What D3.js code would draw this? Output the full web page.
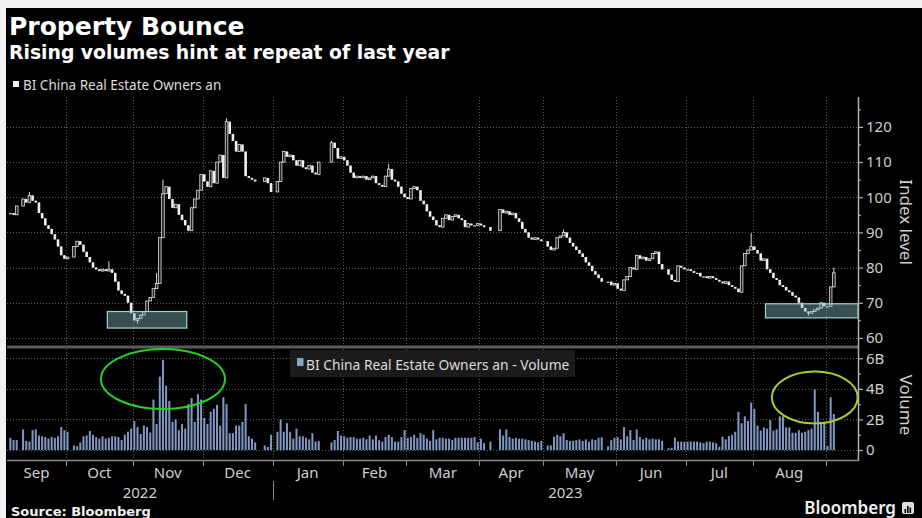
<!DOCTYPE html>
<html>
<head>
<meta charset="utf-8">
<script src="https://cdn.jsdelivr.net/npm/d3@7"></script>
<style>
  body { margin: 0; background: #f2f2f2; }
  svg { display: block; font-family: "Noto Sans", sans-serif; }
</style>
</head>
<body>
<div id="vis"></div>
<script>
// ---- data ----
const firstDay = "2022-09-07";
const lastDay = "2023-09-05";
// HK market holidays inside the window (no bar drawn)
const holidays = ["2022-09-12", "2022-10-04", "2022-12-26", "2022-12-27", "2023-01-02",
  "2023-01-23", "2023-01-24", "2023-01-25", "2023-04-05", "2023-04-07", "2023-04-10",
  "2023-05-01", "2023-05-26", "2023-06-22"];

// daily close of the index, one value per trading day
const closes = [
  95.5, 95, 97.5, 99.5, 98.5, 100.5, 99, 98.5, 95.5, 94, 92, 91, 89.5, 88, 86, 83.5, 82.5,          // Sep 22
  83, 86, 87.5, 86.5, 84.5, 83, 81.5, 80, 79.5, 79, 79.5, 79, 79.5, 78.5, 76, 73.5, 72.5, 72, 70, 67, // Oct
  65, 65.5, 66.5, 67.5, 70.5, 71.5, 74, 75.5, 88.5, 101, 103, 99.5, 97, 98, 95, 93.5, 92, 90.5,
  97, 99.5, 102, 106.5,                                                                              // Nov
  104.5, 103, 107.5, 104, 110, 112, 105.5, 121.5, 118, 116, 113, 115, 113, 106, 105.5, 105, 104.5,
  105.5, 104, 101.5,                                                                                 // Dec
  104.5, 110, 113, 111.5, 112, 110.5, 109, 110.5, 108.5, 108, 109, 107, 106.5, 110, 115.5, 114, 111, 111.5, // Jan 23
  110.5, 109, 107, 105.5, 106, 105.5, 106, 105, 105.5, 106, 104, 103.5, 103, 106, 108, 105, 104.5, 103, 101, 100, // Feb
  99.5, 102.5, 103, 102, 99, 98, 96, 94.5, 93.5, 92, 91.5, 94, 95, 93.5, 94.5, 95, 94, 93.5, 91.5, 92.5,
  92, 92, 92.5,                                                                                      // Mar
  92, 91.5, 90.5, 96.5, 95.5, 96, 95, 95.5, 94, 93, 91, 90, 88.5, 88, 88.5, 88, 87.5,              // Apr
  86, 85, 85.5, 88.5, 89, 90, 88.5, 87, 86, 85, 84, 83, 81.5, 80.5, 79, 78, 77, 76, 76, 75, 75.5,   // May
  74, 73.5, 76.5, 77.5, 80, 79.5, 83.5, 82.5, 83, 82, 82.5, 84, 84.5, 81, 79.5, 78, 76.5, 76, 80.5, 80, 79.5, // Jun
  79.5, 79, 78.5, 78.5, 77.5, 77.5, 77, 77.5, 77, 76.5, 76, 75.5, 76, 75, 74.5, 74, 73, 80.5, 84, 85, 86, // Jul
  85, 84, 82, 82.5, 79.5, 78.5, 77, 76.5, 75, 74.5, 73.5, 73, 72, 71.5, 70, 68.5, 67.5, 67, 67.5, 68,
  68.5, 70, 69,                                                                                      // Aug
  69, 74.5, 78.5                                                                                     // Sep 23
];

// daily volume, billions of shares
const volumes = [
  0.8, 0.65, 0.65, 1.35, 0.6, 0.55, 1.3, 1.35, 0.95, 0.9, 0.85, 0.75, 0.85, 0.8, 0.9, 1.5, 1.3,
  1.2, 0.3, 0.25, 0.5, 0.9, 0.95, 1.25, 1.0, 0.85, 0.75, 0.9, 0.75, 0.8, 0.9, 0.9, 0.85, 0.65, 1.0, 1.2, 1.4,
  1.9, 1.5, 1.05, 1.6, 1.5, 1.15, 3.3, 1.7, 4.8, 5.9, 4.2, 3.2, 1.85, 2.0, 1.3, 1.7, 1.4, 3.0, 3.4, 1.85, 3.65, 3.3,
  2.1, 1.7, 2.5, 2.7, 2.95, 1.6, 3.45, 3.0, 1.1, 1.1, 1.6, 1.6, 1.85, 3.0, 0.9, 0.75, 0.5, 0.3, 0.2, 1.0,
  1.2, 2.0, 1.2, 1.75, 1.2, 0.75, 1.4, 0.9, 0.9, 0.8, 0.7, 1.1, 0.55, 0.6, 0.5, 0.65, 1.25, 0.95,
  0.9, 0.8, 0.85, 0.85, 0.75, 0.75, 0.8, 0.7, 0.95, 0.7, 0.95, 0.65, 0.55, 0.85, 1.0, 0.85, 0.55, 0.55, 0.85, 1.3,
  0.8, 0.85, 1.0, 0.8, 1.1, 1.0, 0.75, 0.6, 1.3, 0.7, 0.8, 0.8, 0.75, 0.75, 0.65, 0.8, 0.8, 0.8, 0.8, 0.8, 0.8, 0.85, 0.5,
  0.75, 0.45, 0.55, 1.35, 0.95, 1.35, 0.85, 0.75, 0.8, 0.75, 0.75, 0.7, 0.65, 0.6, 0.55, 0.5, 0.6,
  0.3, 0.3, 0.87, 1.0, 0.9, 1.1, 0.65, 0.6, 0.6, 0.65, 0.7, 0.6, 0.7, 0.55, 0.7, 0.65, 0.8, 0.83, 0.25, 0.65, 0.8,
  0.85, 0.7, 1.5, 0.9, 1.3, 0.65, 1.35, 0.85, 0.7, 0.8, 0.7, 0.75, 0.7, 0.7, 0.6, 0.12, 0.15, 0.82, 0.55, 0.55, 0.55,
  0.55, 0.55, 0.55, 0.55, 0.5, 0.45, 0.55, 0.55, 0.5, 0.45, 0.22, 0.87, 0.7, 0.92, 1.0, 1.2, 2.5, 1.75, 2.2, 1.9, 3.1,
  2.7, 1.6, 1.27, 1.48, 1.4, 1.96, 1.27, 1.35, 2.2, 2.2, 1.48, 1.48, 1.13, 1.13, 1.3, 1.13, 1.2, 1.3, 1.4, 3.96, 2.5, 1.85, 1.85,
  0.26, 3.45, 2.35
];

// visible wick extremes beyond the candle body
const wickDates = ["2022-09-15", "2022-10-20", "2022-11-02", "2022-11-10", "2022-11-14", "2022-12-12",
  "2023-01-26", "2023-02-21", "2023-05-09", "2023-07-31", "2023-08-24", "2023-09-05"];
const wickValues = [101.5, 81.8, 64, 78.5, 105, 122.5, 116, 109.5, 90.8, 89.8, 66.3, 80];

const priceTicks = [60, 70, 80, 90, 100, 110, 120];
const priceMinor = [65, 75, 85, 95, 105, 115, 125];
const volTicks = [0, 2, 4, 6];
const volLabels = ["0", "2B", "4B", "6B"];
const volMinor = [1, 3, 5];
const monthLabels = ["Sep", "Oct", "Nov", "Dec", "Jan", "Feb", "Mar", "Apr", "May", "Jun", "Jul", "Aug"];
const monthStarts = ["2022-10-03", "2022-11-01", "2022-12-01", "2023-01-02", "2023-02-01", "2023-03-01",
  "2023-04-03", "2023-05-01", "2023-06-01", "2023-07-03", "2023-08-01", "2023-09-01"];
const yearLabels = ["2022", "2023"];

// highlight boxes on the price panel and rings on the volume panel
const boxFrom = ["2022-10-20", "2023-08-07"];
const boxTo = ["2022-11-24", null];
const boxLow = [62.8, 65.7];
const boxHigh = [67.5, 69.7];
const ringDates = ["2022-11-14", "2023-08-28"];
const ringVol = [4.64, 3.43];
const ringHalfDays = [19.5, 13.5];
const ringHalfVol = [1.96, 1.7];
const ringColors = ["#22d322", "#a4cf2e"];

// ---- layout ----
const W = 922, H = 518;
const plot = { left: 7, right: 858, top: 97, sep: 347, bottom: 460 };

const svg = d3.select("#vis").append("svg")
  .attr("width", W)
  .attr("height", H);

svg.append("rect")
  .attr("x", 6).attr("y", 8)
  .attr("width", W - 6).attr("height", H - 8)
  .attr("fill", "#000");

// weekday slots (Bloomberg skips weekends, keeps holiday gaps)
const parse = d3.timeParse("%Y-%m-%d");
const fmt = d3.timeFormat("%Y-%m-%d");
const weekdays = d3.timeDay.range(parse("2022-09-01"), parse("2023-10-01"))
  .filter(d => d.getDay() % 6 !== 0);
const slot = new Map(weekdays.map((d, i) => [fmt(d), i]));
const holidaySet = new Set(holidays);
const tradingDays = weekdays.filter(d => d >= parse(firstDay) && d <= parse(lastDay) && !holidaySet.has(fmt(d)));
if (tradingDays.length !== closes.length || closes.length !== volumes.length) {
  console.error("length mismatch", tradingDays.length, closes.length, volumes.length);
}

const wickMap = new Map(wickDates.map((d, i) => [d, wickValues[i]]));
const data = tradingDays.map((d, k) => {
  const open = k ? closes[k - 1] : closes[0];
  const close = closes[k];
  const key = fmt(d);
  let high = Math.max(open, close), low = Math.min(open, close);
  if (wickMap.has(key)) {
    const w = wickMap.get(key);
    if (w > high) high = w; else if (w < low) low = w;
  }
  return { s: slot.get(key), open, close, high, low, vol: volumes[k] };
});

const x = d3.scaleLinear().domain([3.45, 271.1]).range([plot.left, plot.right]);
const xc = s => x(s + 0.5);
const yP = d3.scaleLinear().domain([57.7, 128.5]).range([346, plot.top]);
const yV = d3.scaleLinear().domain([-0.65, 6.67]).range([plot.bottom, 348]);

svg.append("clipPath").attr("id", "clip")
  .append("rect")
  .attr("x", plot.left).attr("y", plot.top)
  .attr("width", plot.right - plot.left).attr("height", plot.bottom - plot.top);

// gridlines
const grid = svg.append("g")
  .attr("stroke", "#5a5a5a")
  .attr("stroke-dasharray", "1,2")
  .attr("stroke-width", 1);

grid.selectAll(".hp")
  .data(priceTicks)
  .enter().append("line")
  .attr("x1", plot.left).attr("x2", plot.right)
  .attr("y1", d => Math.round(yP(d)) + 0.5).attr("y2", d => Math.round(yP(d)) + 0.5);

grid.selectAll(".hv")
  .data(volTicks)
  .enter().append("line")
  .attr("x1", plot.left).attr("x2", plot.right)
  .attr("y1", d => Math.round(yV(d)) + 0.5).attr("y2", d => Math.round(yV(d)) + 0.5);

grid.selectAll(".vm")
  .data(monthStarts)
  .enter().append("line")
  .attr("x1", d => Math.round(x(slot.get(d))) + 0.5)
  .attr("x2", d => Math.round(x(slot.get(d))) + 0.5)
  .attr("y1", plot.top).attr("y2", plot.bottom);

const chart = svg.append("g").attr("clip-path", "url(#clip)");

// volume bars
chart.selectAll(".bar")
  .data(data)
  .enter().append("rect")
  .attr("x", d => xc(d.s) - 1)
  .attr("width", 2)
  .attr("y", d => yV(d.vol))
  .attr("height", d => yV(0) - yV(d.vol))
  .attr("fill", "#7f99c4");

// candles
chart.selectAll(".wick")
  .data(data)
  .enter().append("line")
  .attr("x1", d => xc(d.s)).attr("x2", d => xc(d.s))
  .attr("y1", d => yP(d.high)).attr("y2", d => yP(d.low))
  .attr("stroke", "#dcdcdc")
  .attr("stroke-width", 1);

chart.selectAll(".body")
  .data(data)
  .enter().append("rect")
  .attr("x", d => xc(d.s) - 1.3)
  .attr("width", 2.6)
  .attr("y", d => yP(Math.max(d.open, d.close)))
  .attr("height", d => Math.max(1.2, Math.abs(yP(d.open) - yP(d.close))))
  .attr("fill", d => d.close > d.open ? "#222" : "#efefef")
  .attr("stroke", d => d.close > d.open ? "#e4e4e4" : "none")
  .attr("stroke-width", 0.8);

// highlight boxes
boxFrom.forEach((f, i) => {
  const x0 = x(slot.get(f));
  const x1 = boxTo[i] ? x(slot.get(boxTo[i])) : plot.right;
  svg.append("rect")
    .attr("x", x0).attr("y", yP(boxHigh[i]))
    .attr("width", x1 - x0).attr("height", yP(boxLow[i]) - yP(boxHigh[i]))
    .attr("fill", "#86bcbc")
    .attr("fill-opacity", 0.42)
    .attr("stroke", "#9fd4d4")
    .attr("stroke-width", 1.2);
});

// panel separator
svg.append("rect")
  .attr("x", plot.left).attr("y", plot.sep - 1.5)
  .attr("width", plot.right - plot.left).attr("height", 3)
  .attr("fill", "#5c5c5c");

// rings around the volume spikes
ringDates.forEach((d, i) => {
  const cx = xc(slot.get(d));
  svg.append("ellipse")
    .attr("cx", cx)
    .attr("cy", yV(ringVol[i]))
    .attr("rx", x(ringHalfDays[i]) - x(0))
    .attr("ry", yV(0) - yV(ringHalfVol[i]))
    .attr("fill", "none")
    .attr("stroke", ringColors[i])
    .attr("stroke-width", 2);
});

// right axes
svg.append("line")
  .attr("x1", plot.right + 0.5).attr("x2", plot.right + 0.5)
  .attr("y1", plot.top).attr("y2", plot.bottom + 1)
  .attr("stroke", "#b0b0b0")
  .attr("stroke-width", 1.5);

function styleAxis(g) {
  g.select(".domain").remove();
  g.selectAll("line").attr("stroke", "#b0b0b0").attr("stroke-width", 1.2);
  g.selectAll("text")
    .attr("fill", "#cfcfcf")
    .attr("font-size", 15)
    .attr("font-family", "Noto Sans");
}

svg.append("g")
  .attr("transform", `translate(${plot.right},0)`)
  .call(d3.axisRight(yP).tickValues(priceTicks).tickSize(5).tickPadding(3))
  .call(styleAxis);

svg.append("g")
  .attr("transform", `translate(${plot.right},0)`)
  .call(d3.axisRight(yP).tickValues(priceMinor).tickSize(3).tickFormat(""))
  .call(styleAxis);

svg.append("g")
  .attr("transform", `translate(${plot.right},0)`)
  .call(d3.axisRight(yV).tickValues(volTicks).tickSize(5).tickPadding(3)
    .tickFormat((d, i) => volLabels[i]))
  .call(styleAxis);

svg.append("g")
  .attr("transform", `translate(${plot.right},0)`)
  .call(d3.axisRight(yV).tickValues(volMinor).tickSize(3).tickFormat(""))
  .call(styleAxis);

svg.append("text")
  .attr("transform", `translate(906,222) rotate(90)`)
  .attr("text-anchor", "middle")
  .attr("dominant-baseline", "central")
  .attr("fill", "#cfcfcf")
  .attr("font-size", 17)
  .text("Index level");

svg.append("text")
  .attr("transform", `translate(906,405) rotate(90)`)
  .attr("text-anchor", "middle")
  .attr("dominant-baseline", "central")
  .attr("fill", "#cfcfcf")
  .attr("font-size", 17)
  .text("Volume");

// bottom axis
svg.append("line")
  .attr("x1", plot.left).attr("x2", plot.right)
  .attr("y1", plot.bottom + 0.5).attr("y2", plot.bottom + 0.5)
  .attr("stroke", "#8a8a8a")
  .attr("stroke-width", 1.5);

const bx = monthStarts.map(d => x(slot.get(d)));

svg.selectAll(".mtick")
  .data(bx)
  .enter().append("line")
  .attr("x1", d => Math.round(d) + 0.5).attr("x2", d => Math.round(d) + 0.5)
  .attr("y1", plot.bottom).attr("y2", plot.bottom + 6)
  .attr("stroke", "#8a8a8a");

svg.selectAll(".mlabel")
  .data(monthLabels)
  .enter().append("text")
  .attr("x", (d, i) => ((i ? bx[i - 1] : plot.left) + bx[i]) / 2)
  .attr("y", 478)
  .attr("text-anchor", "middle")
  .attr("fill", "#cfcfcf")
  .attr("font-size", 15)
  .text(d => d);

const janX = x(slot.get("2023-01-02"));
svg.selectAll(".ylabel")
  .data(yearLabels)
  .enter().append("text")
  .attr("x", (d, i) => i ? (janX + plot.right) / 2 : (plot.left + janX) / 2)
  .attr("y", 498)
  .attr("text-anchor", "middle")
  .attr("fill", "#cfcfcf")
  .attr("font-size", 15)
  .text(d => d);

svg.append("line")
  .attr("x1", Math.round(janX) + 0.5).attr("x2", Math.round(janX) + 0.5)
  .attr("y1", 481).attr("y2", 500)
  .attr("stroke", "#8a8a8a");

// titles and legends
svg.append("text")
  .attr("x", 9).attr("y", 35)
  .attr("fill", "#fff")
  .attr("font-family", "DejaVu Sans")
  .attr("font-weight", "bold")
  .attr("font-size", 25)
  .text("Property Bounce");

svg.append("text")
  .attr("x", 9).attr("y", 58.5)
  .attr("fill", "#fff")
  .attr("font-family", "DejaVu Sans")
  .attr("font-weight", "bold")
  .attr("font-size", 18.8)
  .text("Rising volumes hint at repeat of last year");

svg.append("rect")
  .attr("x", 13).attr("y", 81).attr("width", 6).attr("height", 6)
  .attr("fill", "#eee");

svg.append("text")
  .attr("x", 23).attr("y", 89.5)
  .attr("fill", "#dcdcdc")
  .attr("font-size", 13.5)
  .text("BI China Real Estate Owners an");

svg.append("rect")
  .attr("x", 290).attr("y", 350).attr("width", 285).attr("height", 27)
  .attr("fill", "#1b1b1b");

svg.append("rect")
  .attr("x", 297).attr("y", 358).attr("width", 6.5).attr("height", 8)
  .attr("fill", "#8aa2c8");

svg.append("text")
  .attr("x", 306).attr("y", 369.5)
  .attr("fill", "#dcdcdc")
  .attr("font-size", 13.8)
  .text("BI China Real Estate Owners an - Volume");

svg.append("text")
  .attr("x", 11).attr("y", 515.5)
  .attr("fill", "#f0f0f0")
  .attr("font-family", "DejaVu Sans")
  .attr("font-weight", "bold")
  .attr("font-size", 13)
  .text("Source: Bloomberg");

svg.append("text")
  .attr("x", 896).attr("y", 514)
  .attr("text-anchor", "end")
  .attr("fill", "#f0f0f0")
  .attr("font-weight", 600)
  .attr("font-size", 17)
  .text("Bloomberg");

// little logo mark
svg.append("rect")
  .attr("x", 902).attr("y", 502).attr("width", 12).attr("height", 12).attr("rx", 2)
  .attr("fill", "#dedede");
[[904.5, 509, 4], [907, 506, 7], [909.5, 507.5, 5.5]].forEach(b => {
  svg.append("rect")
    .attr("x", b[0]).attr("y", b[1]).attr("width", 1.6).attr("height", b[2])
    .attr("fill", "#000");
});
</script>
</body>
</html>
